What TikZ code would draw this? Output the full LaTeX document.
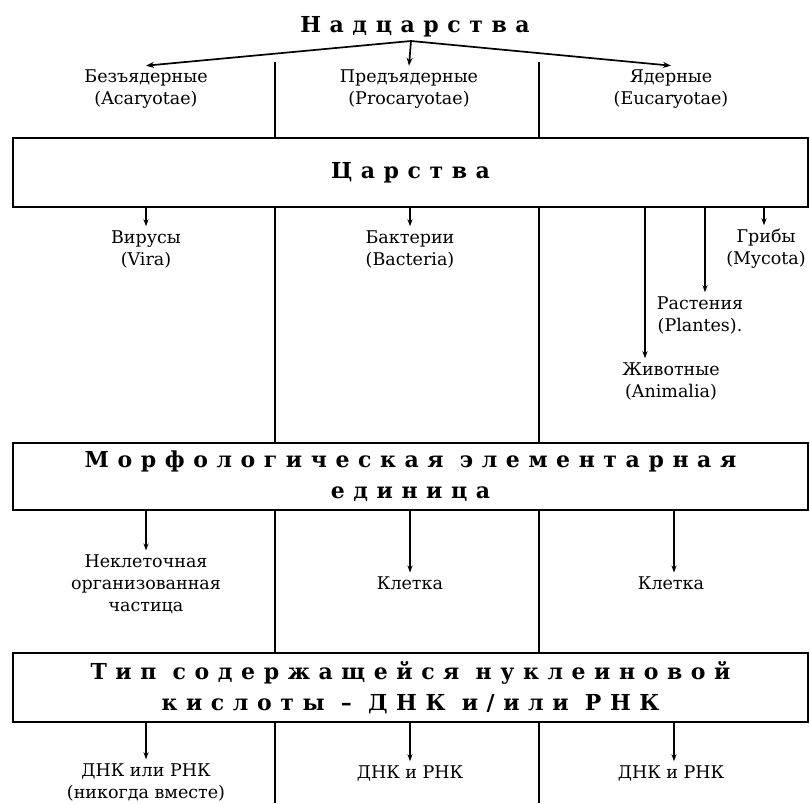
\documentclass[tikz,border=0pt]{standalone}
\usepackage{fontspec}
\setmainfont{DejaVu Serif}
\newfontfamily\headfont[LetterSpace=39]{DejaVu Serif}
\usetikzlibrary{arrows.meta}
\begin{document}
\begin{tikzpicture}[x=1pt,y=-1pt,
  lbl/.style={font=\fontsize{17.5}{22}\selectfont, align=center, inner sep=1pt, outer sep=3pt},
  head/.style={font=\headfont\bfseries\fontsize{22}{31}\selectfont, align=center},
  box/.style={draw, line width=2.8pt, fill=white, minimum width=795pt, inner sep=0pt},
  arr/.style={-{Stealth[length=7pt,width=5pt]}, line width=1.2pt},
  tarr/.style={-{Stealth[length=8pt,width=6pt]}, line width=1.7pt},
  vline/.style={line width=1.5pt}]
\useasboundingbox (0,0) rectangle (810,803);
\fill[white] (0,0) rectangle (810,803);
% vertical dividers
\coordinate (v1t) at (275,62);
\coordinate (v1b) at (275,803);
\coordinate (v2t) at (539,62);
\coordinate (v2b) at (539,803);
\draw[vline] (v1t) -- (v1b);
\draw[vline] (v2t) -- (v2b);
% title and superkingdoms
\node[head] (title) at (415,27) {Надцарства};
\coordinate (ts) at (411,41);
\node[lbl] (bez) at (146,89) {Безъядерные\\(Acaryotae)};
\node[lbl] (pred) at (409,89) {Предъядерные\\(Procaryotae)};
\node[lbl] (yad) at (671,89) {Ядерные\\(Eucaryotae)};
\draw[tarr] (ts) -- (bez.north);
\draw[tarr] (ts) -- (pred.north);
\draw[tarr] (ts) -- (yad.north);
% boxes
\node[box, head, minimum height=69pt] (b1) at (410.5,172.5) {Царства};
\node[box, head, minimum height=67pt] (b2) at (410.5,476.5) {Морфологическая элементарная\\единица};
\node[box, head, minimum height=69pt] (b3) at (410.5,687.5) {Тип содержащейся нуклеиновой\\кислоты – ДНК и/или РНК};
% kingdoms
\node[lbl] (vir) at (146,249) {Вирусы\\(Vira)};
\node[lbl] (bak) at (410,249) {Бактерии\\(Bacteria)};
\node[lbl] (grib) at (766,249) {Грибы\\(Mycota)};
\node[lbl] (rast) at (700,315) {Растения\\(Plantes).};
\node[lbl] (anim) at (671,381) {Животные\\(Animalia)};
\draw[arr] (b1.south -| vir) -- (vir.north);
\draw[arr] (b1.south -| bak) -- (bak.north);
\draw[arr] (b1.south -| 764,0) -- (grib.north -| 764,0);
\draw[arr] (b1.south -| 705,0) -- (rast.north -| 705,0);
\draw[arr] (b1.south -| 645,0) -- (anim.north -| 645,0);
% morphological units
\node[lbl] (nekl) at (146,584) {Неклеточная\\организованная\\частица};
\node[lbl] (kl1) at (410,583) {Клетка};
\node[lbl] (kl2) at (671,583) {Клетка};
\draw[arr] (b2.south -| nekl) -- (nekl.north);
\draw[arr] (b2.south -| kl1) -- (kl1.north);
\draw[arr] (b2.south -| 674,0) -- (kl2.north -| 674,0);
% nucleic acids
\node[lbl] (d1) at (146,782) {ДНК или РНК\\(никогда вместе)};
\node[lbl] (d2) at (410,773) {ДНК и РНК};
\node[lbl] (d3) at (671,773) {ДНК и РНК};
\draw[arr] (b3.south -| d1) -- (d1.north);
\draw[arr] (b3.south -| d2) -- (d2.north);
\draw[arr] (b3.south -| 674,0) -- (d3.north -| 674,0);
\end{tikzpicture}
\end{document}
